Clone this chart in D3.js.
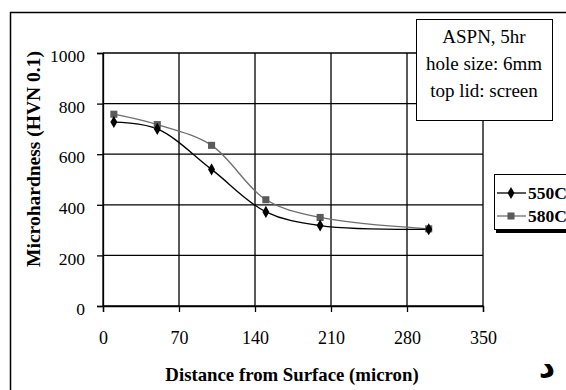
<!DOCTYPE html>
<html>
<head>
<meta charset="utf-8">
<script src="https://cdn.jsdelivr.net/npm/d3@7"></script>
<style>
  body { margin: 0; background: #fff; }
  svg { display: block; font-family: "Liberation Serif", "Times New Roman", serif; }
</style>
</head>
<body>
<svg id="chart" width="566" height="390"></svg>
<script>
// data
const distance = [10, 50, 100, 150, 200, 300];
const hv550 = [727, 700, 540, 372, 318, 303];
const hv580 = [758, 717, 635, 420, 350, 305];
const xTicks = [0, 70, 140, 210, 280, 350];
const yTicks = [0, 200, 400, 600, 800, 1000];
const seriesNames = ["550C", "580C"];
const noteLines = ["ASPN, 5hr", "hole size: 6mm", "top lid: screen"];

const svg = d3.select("#chart");

// outer frame (runs off the right/bottom edges)
svg.append("rect")
  .attr("x", 10.5).attr("y", 12.5)
  .attr("width", 600).attr("height", 400)
  .attr("fill", "#fff").attr("stroke", "#000").attr("stroke-width", 1.5);

const x = d3.scaleLinear().domain([0, 350]).range([103, 483]);
const y = d3.scaleLinear().domain([0, 1000]).range([306, 53]);

// gridlines
const grid = svg.append("g").attr("stroke", "#000").attr("stroke-width", 1.3);
grid.selectAll(".hg").data(yTicks).enter().append("line")
  .attr("x1", x(0)).attr("x2", x(350))
  .attr("y1", d => y(d)).attr("y2", d => y(d));
grid.selectAll(".vg").data(xTicks).enter().append("line")
  .attr("x1", d => x(d)).attr("x2", d => x(d))
  .attr("y1", y(1000)).attr("y2", y(0));

// axes
const yAxis = svg.append("g")
  .attr("transform", `translate(${x(0)},0)`)
  .call(d3.axisLeft(y).tickValues(yTicks).tickFormat(d3.format("d")).tickSize(6).tickPadding(12));
const xAxis = svg.append("g")
  .attr("transform", `translate(0,${y(0)})`)
  .call(d3.axisBottom(x).tickValues(xTicks).tickFormat(d3.format("d")).tickSize(6).tickPadding(19));
[yAxis, xAxis].forEach(a => {
  a.attr("font-family", null).attr("font-size", null);
  a.select(".domain").attr("stroke", "#000").attr("stroke-width", 1.3);
  a.selectAll(".tick line").attr("stroke", "#000").attr("stroke-width", 1.3);
  a.selectAll("text").attr("fill", "#000");
});
yAxis.selectAll("text").attr("font-size", 17.5).attr("dy", "0.5em");
xAxis.selectAll("text").attr("font-size", 18);

// series
const line = d3.line().x(d => x(d[0])).y(d => y(d[1])).curve(d3.curveCatmullRom.alpha(0.5));
const s550 = distance.map((d, i) => [d, hv550[i]]);
const s580 = distance.map((d, i) => [d, hv580[i]]);

svg.append("path").datum(s580).attr("d", line)
  .attr("fill", "none").attr("stroke", "#6e6e6e").attr("stroke-width", 1.3);
svg.append("path").datum(s550).attr("d", line)
  .attr("fill", "none").attr("stroke", "#000").attr("stroke-width", 1.3);

const square = d3.symbol().type(d3.symbolSquare).size(50);
const diamond = d3.symbol().type(d3.symbolDiamond).size(42);

svg.selectAll(".m580").data(s580).enter().append("path")
  .attr("d", square)
  .attr("transform", d => `translate(${x(d[0])},${y(d[1])})`)
  .attr("fill", "#5a5a5a");
svg.selectAll(".m550").data(s550).enter().append("path")
  .attr("d", diamond)
  .attr("transform", d => `translate(${x(d[0])},${y(d[1])})`)
  .attr("fill", "#000");

// axis titles
svg.append("text")
  .attr("transform", "translate(40,159) rotate(-90)")
  .attr("text-anchor", "middle")
  .attr("font-size", 19.5).attr("font-weight", "bold")
  .text("Microhardness (HVN 0.1)");
svg.append("text")
  .attr("x", 292).attr("y", 381)
  .attr("text-anchor", "middle")
  .attr("font-size", 18.8).attr("font-weight", "bold")
  .text("Distance from Surface (micron)");

// note box
svg.append("rect")
  .attr("x", 416.5).attr("y", 19.5).attr("width", 136).attr("height", 101)
  .attr("fill", "#fff").attr("stroke", "#000").attr("stroke-width", 1);
svg.selectAll(".note").data(noteLines).enter().append("text")
  .attr("x", 484).attr("y", (d, i) => 43 + i * 27)
  .attr("text-anchor", "middle").attr("font-size", 19)
  .text(d => d);

// legend
svg.append("rect")
  .attr("x", 496).attr("y", 177).attr("width", 100).attr("height", 56)
  .attr("fill", "#000");
svg.append("rect")
  .attr("x", 494.5).attr("y", 174.5).attr("width", 100).attr("height", 55)
  .attr("fill", "#fff").attr("stroke", "#000").attr("stroke-width", 1);
const leg = svg.selectAll(".leg").data(seriesNames).enter().append("g")
  .attr("transform", (d, i) => `translate(0,${193 + i * 23})`);
leg.append("line")
  .attr("x1", 497).attr("x2", 526).attr("y1", 0).attr("y2", 0)
  .attr("stroke", (d, i) => i ? "#6e6e6e" : "#000").attr("stroke-width", 1.3);
leg.append("path")
  .attr("d", (d, i) => i ? square() : diamond())
  .attr("transform", "translate(511,0)")
  .attr("fill", (d, i) => i ? "#5a5a5a" : "#000");
leg.append("text")
  .attr("x", 528).attr("y", 5.5)
  .attr("font-size", 17.5).attr("font-weight", "bold")
  .text(d => d);

// panel letter
svg.append("text")
  .attr("x", 547).attr("y", 377)
  .attr("text-anchor", "middle")
  .attr("font-family", "DejaVu Sans").attr("font-size", 32).attr("font-weight", "bold")
  .text("د");
</script>
</body>
</html>
